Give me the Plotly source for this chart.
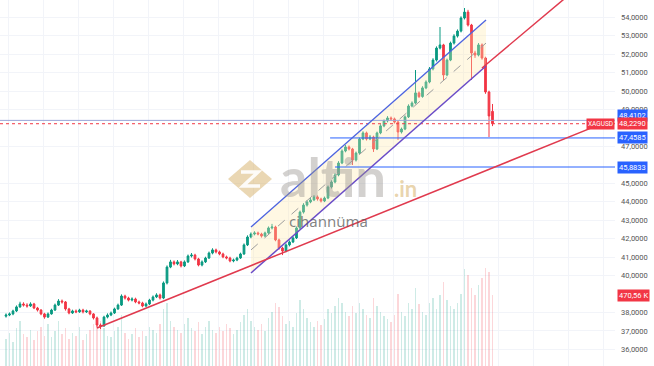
import plotly.graph_objects as go

W, H = 654, 366

# ---------------- data (XAGUSD candles) ----------------
opens = [37.80,37.86,37.92,38.08,38.30,38.46,38.40,38.35,38.46,38.24,
         38.13,37.92,37.75,37.92,38.13,38.40,38.62,38.57,38.19,37.97,
         38.08,38.03,38.13,38.03,38.08,37.92,37.70,37.32,37.27,37.75,
         37.86,37.97,38.19,38.40,38.89,38.78,38.67,38.73,38.57,38.51,
         38.35,38.46,38.67,38.84,38.95,38.78,39.60,40.46,40.74,40.63,
         40.74,40.52,40.74,41.06,41.11,40.90,40.57,40.74,40.95,41.22,
         41.39,41.28,41.17,41.01,40.95,40.79,40.84,40.95,41.17,41.66,
         42.09,42.25,42.31,42.25,42.14,42.31,42.58,42.63,41.93,41.49,
         41.33,41.66,41.82,42.04,42.58,43.44,43.82,43.99,44.10,44.26,
         44.15,44.04,44.20,44.80,45.07,45.45,46.10,46.75,46.97,46.86,
         46.26,46.64,47.40,47.73,47.40,47.51,46.86,47.73,48.11,48.38,
         48.54,48.49,48.32,47.78,47.94,48.60,49.19,49.35,49.90,49.70,
         50.17,50.49,51.20,51.68,52.33,52.50,50.87,51.68,52.60,52.98,
         53.25,53.96,54.28,53.58,52.06,51.95,52.50,51.79,49.95,48.90]
highs = [37.95,38.00,38.15,38.38,38.58,38.55,38.50,38.55,38.52,38.30,
         38.18,37.98,38.00,38.20,38.48,38.72,38.70,38.62,38.25,38.15,
         38.16,38.20,38.20,38.15,38.12,37.96,37.75,37.40,37.82,37.95,
         38.05,38.26,38.48,38.98,38.96,38.85,38.82,38.80,38.64,38.58,
         38.54,38.74,38.92,39.04,39.02,39.68,40.55,40.85,40.82,40.84,
         40.80,40.82,41.14,41.22,41.18,40.96,40.82,41.02,41.30,41.48,
         41.46,41.35,41.24,41.08,41.02,40.92,41.02,41.24,41.74,42.18,
         42.34,42.40,42.38,42.32,42.38,42.66,42.80,42.70,42.00,41.56,
         41.74,41.90,42.12,42.66,43.52,43.92,44.08,44.20,44.36,44.34,
         44.22,44.28,44.88,45.16,45.54,46.20,46.84,47.08,47.05,46.92,
         46.72,47.48,47.82,47.80,47.62,47.58,47.80,48.20,48.46,48.64,
         48.62,48.56,48.38,48.02,48.68,49.28,49.44,51.14,49.98,50.26,
         50.58,51.30,51.78,52.42,53.47,52.56,51.76,52.68,53.08,53.34,
         54.05,54.50,54.40,53.64,52.18,52.60,52.58,51.86,50.02,49.30]
lows = [37.72,37.80,37.85,38.02,38.25,38.32,38.26,38.30,38.18,38.05,
        37.85,37.66,37.70,37.88,38.08,38.35,38.48,38.10,37.90,37.92,
        37.96,37.98,37.95,37.97,37.85,37.62,37.20,37.10,37.22,37.68,
        37.80,37.92,38.14,38.35,38.70,38.60,38.60,38.50,38.44,38.28,
        38.30,38.40,38.60,38.78,38.70,38.72,39.52,40.40,40.55,40.56,
        40.44,40.46,40.68,40.98,40.82,40.50,40.50,40.68,40.90,41.15,
        41.20,41.10,40.94,40.88,40.72,40.72,40.78,40.90,41.12,41.60,
        42.02,42.18,42.18,42.06,42.08,42.26,42.50,41.86,41.40,41.11,
        41.26,41.58,41.76,41.98,42.52,43.36,43.74,43.92,44.04,44.06,
        43.96,43.98,44.14,44.72,45.00,45.38,46.04,46.68,46.78,45.99,
        46.18,46.58,47.34,47.32,47.34,46.70,46.80,47.66,48.04,48.30,
        48.40,48.24,47.35,47.70,47.88,48.54,49.12,49.28,49.62,49.64,
        50.10,50.42,51.12,51.60,52.26,50.55,50.80,51.62,52.52,52.90,
        53.18,53.88,53.50,50.60,51.80,51.88,51.70,49.85,47.51,48.10]
closes = [37.86,37.92,38.08,38.30,38.46,38.40,38.35,38.46,38.24,38.13,
          37.92,37.75,37.92,38.13,38.40,38.62,38.57,38.19,37.97,38.08,
          38.03,38.13,38.03,38.08,37.92,37.70,37.32,37.27,37.75,37.86,
          37.97,38.19,38.40,38.89,38.78,38.67,38.73,38.57,38.51,38.35,
          38.46,38.67,38.84,38.95,38.78,39.60,40.46,40.74,40.63,40.74,
          40.52,40.74,41.06,41.11,40.90,40.57,40.74,40.95,41.22,41.39,
          41.28,41.17,41.01,40.95,40.79,40.84,40.95,41.17,41.66,42.09,
          42.25,42.31,42.25,42.14,42.31,42.58,42.63,41.93,41.49,41.33,
          41.66,41.82,42.04,42.58,43.44,43.82,43.99,44.10,44.26,44.15,
          44.04,44.20,44.80,45.07,45.45,46.10,46.75,46.97,46.86,46.26,
          46.64,47.40,47.73,47.40,47.51,46.86,47.73,48.11,48.38,48.54,
          48.49,48.32,47.78,47.94,48.60,49.19,49.35,49.90,49.70,50.17,
          50.49,51.20,51.68,52.33,52.50,50.87,51.68,52.60,52.98,53.25,
          53.96,54.28,53.58,52.06,51.95,52.50,51.79,49.95,48.65,48.229]
volumes_k = [180,220,160,250,300,210,190,240,170,230,
             260,200,280,190,230,300,210,250,180,220,
             200,260,170,210,240,280,330,300,250,200,
             190,230,260,340,220,180,210,250,190,230,
             200,260,240,220,280,380,420,300,260,240,
             220,280,320,250,230,290,210,260,300,240,
             220,260,230,280,250,210,240,290,340,380,
             300,260,240,280,230,320,360,420,390,330,
             280,300,260,350,440,380,320,290,260,300,
             270,310,380,350,400,450,420,360,330,400,
             350,420,380,340,320,450,400,360,330,310,
             290,340,480,360,330,420,380,520,410,360,
             340,420,450,380,470,560,440,400,380,420,
             480,640,600,520,470,540,580,650,620,470.56]

price_ticks = [36, 37, 38, 40, 41, 42, 43, 44, 45, 47, 49, 50, 51, 52, 53, 54, 55]

# drawings (bar index, price)
trend1_x = [26.0, 171.0]
trend1_y = [37.16, 48.29]
trend2_x = [136.0, 170.0]
trend2_y = [51.25, 56.67]
chan_x = [70.0, 137.14]
chan_upper = [42.63, 53.85]
chan_lower = [40.14, 51.36]
chan_mid = [41.39, 52.60]
level_a = 48.4102
last_price = 48.229
level_b = 47.4585
level_c = 45.8833
level_bc_start = [92.6, 94.0]
last_vol_k = 470.56

# ---------------- figure ----------------
PLOT_R = 615
GREEN = "#089981"
RED = "#f23645"
BLUE = "#2962ff"

idx = list(range(len(closes)))
vol_colors = ["rgba(8,153,129,0.2)" if c >= o else "rgba(242,54,69,0.2)"
              for o, c in zip(opens, closes)]

fig = go.Figure()
fig.add_trace(go.Bar(x=idx, y=volumes_k, marker=dict(color=vol_colors, line=dict(width=0)),
                     width=0.45, yaxis="y", hoverinfo="skip"))
fig.add_trace(go.Scatter(x=[chan_x[0], chan_x[1], chan_x[1], chan_x[0], chan_x[0]],
                         y=[chan_upper[0], chan_upper[1], chan_lower[1], chan_lower[0], chan_upper[0]],
                         fill="toself", fillcolor="rgba(255,235,170,0.33)",
                         line=dict(width=0), mode="lines", yaxis="y2", hoverinfo="skip"))
fig.add_trace(go.Candlestick(x=idx, open=opens, high=highs, low=lows, close=closes,
                             yaxis="y2",
                             increasing=dict(line=dict(color=GREEN, width=1), fillcolor=GREEN),
                             decreasing=dict(line=dict(color=RED, width=1), fillcolor=RED),
                             whiskerwidth=0))

px = lambda x: x / W
py = lambda y: 1 - y / H

shapes = []
# full-width price lines
shapes.append(dict(type="line", xref="paper", yref="y2", x0=0, x1=px(PLOT_R),
                   y0=level_a, y1=level_a, line=dict(color="#9aa6d8", width=1)))
shapes.append(dict(type="line", xref="paper", yref="y2", x0=0, x1=px(PLOT_R),
                   y0=last_price, y1=last_price, line=dict(color=RED, width=1, dash="dot")))
shapes.append(dict(type="line", xref="x", yref="y2", x0=level_bc_start[0], x1=200,
                   y0=level_b, y1=level_b, line=dict(color=BLUE, width=1)))
shapes.append(dict(type="line", xref="x", yref="y2", x0=level_bc_start[1], x1=200,
                   y0=level_c, y1=level_c, line=dict(color=BLUE, width=1)))
# channel
shapes.append(dict(type="line", xref="x", yref="y2", x0=chan_x[0], x1=chan_x[1],
                   y0=chan_upper[0], y1=chan_upper[1], line=dict(color="#4c63e0", width=1.3)))
shapes.append(dict(type="line", xref="x", yref="y2", x0=chan_x[0], x1=chan_x[1],
                   y0=chan_lower[0], y1=chan_lower[1], line=dict(color="#6a4cc8", width=1.5)))
shapes.append(dict(type="line", xref="x", yref="y2", x0=chan_x[0], x1=chan_x[1],
                   y0=chan_mid[0], y1=chan_mid[1], line=dict(color="#9e9e9e", width=1, dash="dash")))
# trend lines
shapes.append(dict(type="line", xref="x", yref="y2", x0=trend1_x[0], x1=trend1_x[1],
                   y0=trend1_y[0], y1=trend1_y[1], line=dict(color="#e03a4e", width=1.5)))
shapes.append(dict(type="line", xref="x", yref="y2", x0=trend2_x[0], x1=trend2_x[1],
                   y0=trend2_y[0], y1=trend2_y[1], line=dict(color="#e03a4e", width=1.5)))

# watermark logo (decoration)
def path(pts, close=True):
    s = "M " + " L ".join(f"{px(a):.4f},{py(b):.4f}" for a, b in pts)
    return s + (" Z" if close else "")

shapes.append(dict(type="path", xref="paper", yref="paper",
                   path=path([(228, 179), (250, 160), (272, 179), (250, 198)]),
                   fillcolor="rgba(214,176,104,0.5)", line=dict(width=0)))
shapes.append(dict(type="path", xref="paper", yref="paper",
                   path=path([(241, 172), (258, 172), (243, 186), (260, 186)], close=False),
                   line=dict(color="rgba(255,255,255,0.9)", width=3.5)))

annotations = []
def tag(y, text, color, yref="y2", yshift=0):
    annotations.append(dict(xref="paper", yref=yref, x=px(617), y=y, xanchor="left",
                            yanchor="middle", text=text, showarrow=False, bgcolor=color,
                            font=dict(family="Roboto", size=7.5, color="white"),
                            borderpad=1, yshift=yshift))

fmt = lambda v: f"{v:.4f}".replace(".", ",")
tag(level_a, fmt(level_a), BLUE, yshift=5)
tag(last_price, fmt(last_price), RED)
tag(level_b, fmt(level_b), BLUE)
tag(level_c, fmt(level_c), BLUE)
tag(last_vol_k, f"{last_vol_k:.2f}".replace(".", ",") + " K", RED, yref="y")
annotations.append(dict(xref="paper", yref="y2", x=px(615), y=last_price, xanchor="right",
                        yanchor="middle", text="XAGUSD", showarrow=False, bgcolor=RED,
                        font=dict(family="Roboto", size=6.5, color="white"), borderpad=1))

# watermark text
annotations.append(dict(xref="paper", yref="paper", x=px(278), y=py(176), xanchor="left",
                        yanchor="middle", text="<b>altin</b>", showarrow=False,
                        font=dict(family="Lato", size=54, color="rgba(150,146,140,0.42)")))
annotations.append(dict(xref="paper", yref="paper", x=px(392), y=py(188), xanchor="left",
                        yanchor="middle", text="<b>.in</b>", showarrow=False,
                        font=dict(family="Lato", size=22, color="rgba(214,176,104,0.55)")))
annotations.append(dict(xref="paper", yref="paper", x=px(287), y=py(221), xanchor="left",
                        yanchor="middle", text="cihannüma", showarrow=False,
                        font=dict(family="Noto Sans", size=15, color="rgba(90,90,90,0.75)")))

fig.update_layout(
    width=W, height=H, margin=dict(l=0, r=0, t=0, b=0),
    paper_bgcolor="white", plot_bgcolor="white", showlegend=False,
    bargap=0, shapes=shapes, annotations=annotations,
    xaxis=dict(domain=[0, px(PLOT_R)], range=[-1.714, 174.0], showticklabels=False,
               showgrid=True, gridcolor="#f2f4f9", dtick=10, tick0=0.6, zeroline=False,
               rangeslider=dict(visible=False), fixedrange=True),
    yaxis=dict(range=[0, last_vol_k * H / 71.0], visible=False, showgrid=False, fixedrange=True),
    yaxis2=dict(overlaying="y", side="right", anchor="x", range=[35.098, 54.935],
                tickvals=price_ticks, ticktext=[fmt(v) for v in price_ticks],
                tickfont=dict(family="Roboto", size=7.5, color="#555"),
                ticks="", ticklabelstandoff=5, showgrid=True, gridcolor="#f2f4f9",
                zeroline=False, showline=False, fixedrange=True),
)

fig.write_html("out.html")
